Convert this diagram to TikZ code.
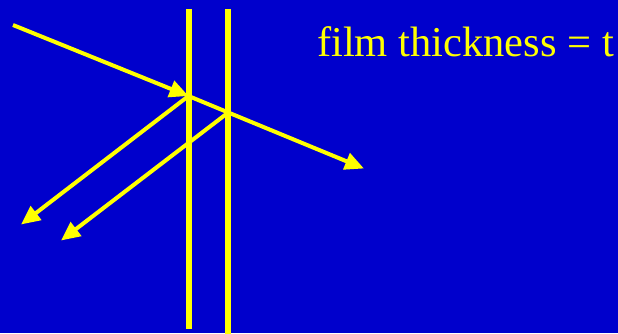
\documentclass[tikz,border=0pt]{standalone}
\usepackage{fontspec}
\setmainfont{Liberation Serif}
\usetikzlibrary{arrows.meta}
\definecolor{slideblue}{RGB}{0,0,204}
\definecolor{rayyellow}{RGB}{255,255,0}

\begin{document}
\begin{tikzpicture}[
  x=1pt, y=-1pt,
  ray/.style={draw=rayyellow, line width=4pt},
  rayarrow/.style={ray, -{Triangle[length=19pt, width=17pt]}},
  surface/.style={draw=rayyellow, line width=6pt}
]
  \fill[slideblue] (0,0) rectangle (618,333);
  \useasboundingbox (0,0) rectangle (618,333);
  % film surfaces
  \coordinate (topA) at (188.5,9);
  \coordinate (botA) at (188.5,329);
  \coordinate (topB) at (228.3,9);
  \coordinate (botB) at (228.3,340);
  \draw[surface] (topA) -- (botA);
  \draw[surface] (topB) -- (botB);
  % incident and transmitted ray
  \coordinate (src) at (13,25);
  \coordinate (hitA) at (188.5,96);
  \coordinate (hitB) at (228.3,112.5);
  \coordinate (out) at (364,168.5);
  \draw[rayarrow] (src) -- (hitA);
  \draw[ray] (hitA) -- (hitB);
  \draw[rayarrow] (hitB) -- (out);
  % reflected rays
  \coordinate (refA) at (21,224.5);
  \coordinate (refB) at (61,240.5);
  \draw[rayarrow] (hitA) -- (refA);
  \draw[rayarrow] (hitB) -- (refB);
  % label
  \node[rayyellow, anchor=base west, inner sep=0pt, font=\fontsize{42.5}{48}\selectfont] (label) at (317,56) {film thickness = t};
\end{tikzpicture}
\end{document}
